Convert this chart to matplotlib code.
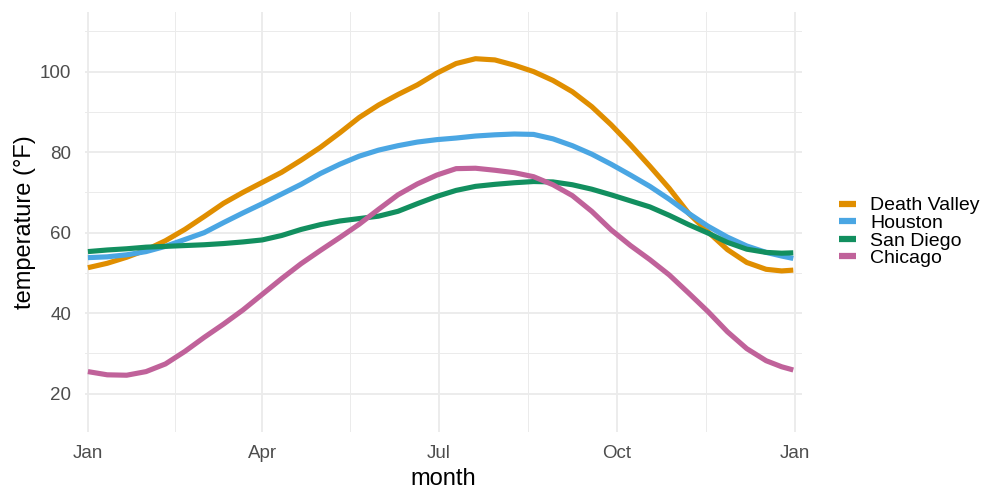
import matplotlib
matplotlib.use("Agg")
import matplotlib.pyplot as plt

# day of year for each reading, and temperatures (°F)
days = [0, 10, 20, 30, 40, 50, 60, 70, 80, 90, 100, 110, 120, 130, 140, 150, 160, 170, 180,
        190, 200, 210, 220, 230, 240, 250, 260, 270, 280, 290, 300, 310, 320, 330, 340, 350, 358, 364]

death_valley = [51.3, 52.4, 53.9, 55.7, 58.0, 60.8, 64.0, 67.3, 70.0, 72.5, 75.0, 78.0, 81.2,
                84.8, 88.6, 91.7, 94.3, 96.7, 99.6, 102.0, 103.2, 102.9, 101.6, 100.0, 97.8,
                95.0, 91.3, 86.8, 81.8, 76.5, 71.0, 64.8, 60.2, 55.8, 52.6, 50.9, 50.5, 50.7]
houston = [53.8, 54.0, 54.5, 55.3, 56.6, 58.3, 60.0, 62.5, 64.9, 67.2, 69.6, 72.0, 74.7,
           77.0, 79.0, 80.5, 81.6, 82.5, 83.1, 83.5, 84.0, 84.3, 84.5, 84.4, 83.3,
           81.6, 79.5, 77.0, 74.3, 71.5, 68.3, 64.8, 61.6, 58.9, 56.7, 55.1, 54.2, 53.6]
san_diego = [55.3, 55.7, 56.0, 56.4, 56.6, 56.8, 57.0, 57.3, 57.7, 58.2, 59.3, 60.8, 62.0,
             62.9, 63.5, 64.1, 65.3, 67.2, 69.0, 70.5, 71.5, 72.0, 72.4, 72.7, 72.6,
             71.9, 70.8, 69.4, 67.9, 66.4, 64.3, 62.0, 59.9, 57.6, 55.9, 55.1, 54.9, 55.0]
chicago = [25.5, 24.7, 24.6, 25.5, 27.4, 30.5, 34.0, 37.3, 40.8, 44.7, 48.6, 52.3, 55.6,
           58.8, 62.1, 65.8, 69.4, 72.1, 74.3, 75.9, 76.0, 75.5, 74.9, 73.9, 71.9,
           69.2, 65.3, 60.7, 56.8, 53.3, 49.5, 45.0, 40.4, 35.4, 31.2, 28.2, 26.7, 25.9]

cities = ["Death Valley", "Houston", "San Diego", "Chicago"]
colors = ["#E08E00", "#4AA6E3", "#128F5F", "#C0629A"]

month_ticks = [0, 90, 181, 273, 365]
month_labels = ["Jan", "Apr", "Jul", "Oct", "Jan"]
minor_ticks = [45, 135, 227, 319]

plt.rcParams["font.family"] = ["Liberation Sans", "DejaVu Sans"]

fig = plt.figure(figsize=(10.08, 5.04), dpi=100)
ax = fig.add_axes([85 / 1008, 72 / 504, 717 / 1008, 420 / 504])

for name, vals, col in zip(cities, [death_valley, houston, san_diego, chicago], colors):
    ax.plot(days, vals, color=col, linewidth=3.7, label=name,
            solid_capstyle="butt", solid_joinstyle="round", zorder=3)

ax.set_xlim(-1.5, 368.5)
ax.set_ylim(10.5, 114.8)
ax.set_xticks(month_ticks)
ax.set_xticklabels(month_labels)
ax.set_xticks(minor_ticks, minor=True)
ax.set_yticks([20, 40, 60, 80, 100])
ax.set_yticks([30, 50, 70, 90, 110], minor=True)

ax.grid(True, which="major", color="#EBEBEB", linewidth=1.3)
ax.grid(True, which="minor", color="#EBEBEB", linewidth=0.7)
ax.set_axisbelow(True)
for s in ax.spines.values():
    s.set_visible(False)
ax.tick_params(which="both", length=0)
ax.tick_params(axis="both", labelsize=13.5, labelcolor="#4D4D4D")
ax.tick_params(axis="x", pad=9)
ax.tick_params(axis="y", pad=10)

ax.set_xlabel("month", fontsize=17, labelpad=5)
ax.set_ylabel("temperature (°F)", fontsize=17, labelpad=3)

leg = ax.legend(loc="center left", bbox_to_anchor=(831 / 1008, 1 - 232 / 504),
                bbox_transform=fig.transFigure, frameon=False, fontsize=14,
                handlelength=0.9, handletextpad=0.7, labelspacing=0.0,
                borderaxespad=0)
for line in leg.get_lines():
    line.set_linewidth(4.5)

plt.savefig("out.png", dpi=100)
